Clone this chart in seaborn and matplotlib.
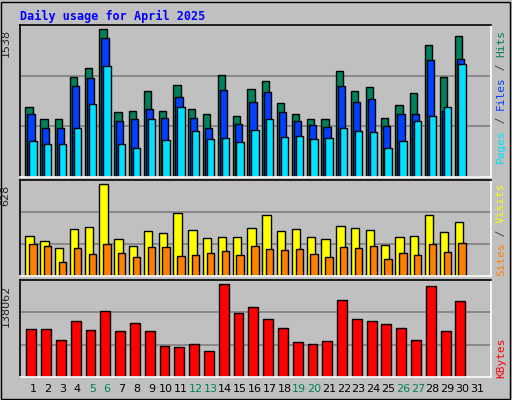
import numpy as np
import matplotlib
matplotlib.use("Agg")
import matplotlib.pyplot as plt
import seaborn as sns
from matplotlib.patches import Rectangle

sns.set_style("white")
plt.rcParams['font.family'] = ['DejaVu Sans Mono', 'DejaVu Sans']

days = list(range(1, 32))
hits = [734,599,609,1044,1131,1538,672,682,891,682,954,713,651,1058,630,912,995,766,661,609,609,1100,891,933,619,745,870,1371,1044,1465,0]
files = [651,515,505,943,1027,1444,588,599,713,619,828,619,515,901,557,786,880,672,578,546,525,943,776,807,536,651,661,1215,682,1225,0]
pages = [379,348,348,505,755,1152,348,306,599,390,724,484,400,411,369,494,609,421,432,400,411,505,484,473,306,379,578,630,734,1173,0]
visits = [273,239,191,321,334,628,253,205,307,293,430,314,259,266,266,328,416,307,321,266,253,341,328,314,212,266,273,416,300,369,0]
sites = [218,205,96,191,150,218,157,130,198,198,137,143,157,171,143,205,184,177,184,150,130,198,191,205,116,157,143,218,164,225,0]
kbytes = [71554,71554,54925,83647,70042,98764,68530,80624,68530,45855,44343,48878,38296,138062,95741,104811,86671,73066,51902,48878,53413,115393,86671,83647,79112,73066,54925,135045,68530,113881,0]
weekend = [5,6,12,13,19,20,26,27]

W, H = 512, 400
fig = plt.figure(figsize=(W/100, H/100), dpi=100, facecolor='#C0C0C0')
fig.patches.append(Rectangle((1/W, 1/H), 1-3/W, 1-3/H, transform=fig.transFigure,
                             fill=False, edgecolor='black', lw=1))

def axes_px(x0, y0, x1, y1):
    return fig.add_axes([x0/W, 1-y1/H, (x1-x0)/W, (y1-y0)/H])

x = np.array(days, dtype=float)
xlim = (0.12, 31.95)

def setup(ax, vmax, factor):
    ax.set_facecolor('#C0C0C0')
    ax.set_xlim(*xlim)
    top = vmax*factor
    ax.set_ylim(0, top)
    for f in (1/3, 2/3):
        ax.axhline(top*f, color='#808080', lw=1.2, zorder=0)
    ax.set_xticks([]); ax.set_yticks([])
    for s in ax.spines.values():
        s.set_color('black'); s.set_linewidth(1.2)
    ax.spines['right'].set_color('white'); ax.spines['bottom'].set_color('white')
    ax.text(-0.02, 1 - (factor-1)/factor, str(vmax), transform=ax.transAxes, rotation=90,
            ha='right', va='top', fontsize=8, family='DejaVu Sans')

def bars(ax, vals, left, width, color):
    ax.bar(x + left, vals, width=width, align='edge', color=color,
           edgecolor='black', linewidth=1, zorder=2)

ax1 = axes_px(20, 25, 491, 177)
setup(ax1, 1538, 1.029)
bars(ax1, hits, -0.51, 0.49, '#00805C')
bars(ax1, files, -0.38, 0.49, '#0040FF')
bars(ax1, pages, -0.25, 0.49, '#00E0FF')

ax2 = axes_px(20, 180, 491, 276)
setup(ax2, 628, 1.047)
bars(ax2, visits, -0.51, 0.56, '#FFFF00')
bars(ax2, sites, -0.25, 0.49, '#FF8000')

ax3 = axes_px(20, 280, 491, 377)
setup(ax3, 138062, 1.047)
bars(ax3, kbytes, -0.45, 0.67, '#FF0000')

for d in days:
    ax3.text(d, -0.12, str(d), transform=ax3.get_xaxis_transform(), ha='center', va='center',
             fontsize=8, family='DejaVu Sans',
             color='#00805C' if d in weekend else 'black')

def vlabel(ypix_bottom, parts):
    yb = ypix_bottom
    for s, c in parts:
        fig.text(496/W, 1-yb/H, s, color=c, fontsize=8, rotation=90, ha='left', va='bottom')
        yb -= 6.6*len(s)

vlabel(163, [('Pages', '#00E0FF'), (' / ', '#404040'), ('Files', '#0040FF'), (' / ', '#404040'), ('Hits', '#00805C')])
vlabel(276, [('Sites', '#FF8000'), (' / ', '#404040'), ('Visits', '#FFFF00')])
vlabel(378, [('KBytes', '#FF0000')])

fig.text(20/W, 1-16/H, 'Daily usage for April 2025', color='#0000FF', fontsize=8.5,
         fontweight='bold', va='center', ha='left')

fig.savefig('out.png', dpi=100, facecolor=fig.get_facecolor())
